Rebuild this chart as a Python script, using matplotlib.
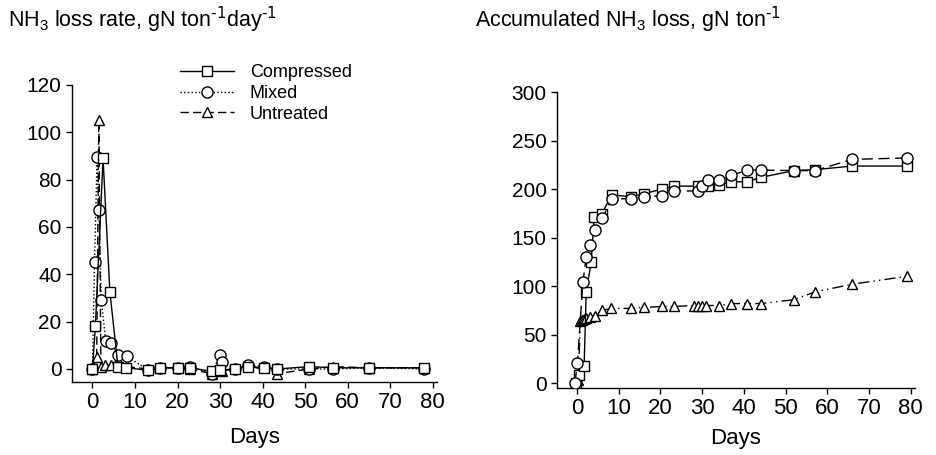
import numpy as np
import matplotlib
matplotlib.use("Agg")
from matplotlib import pyplot as plt

plt.rcParams['font.family'] = ['Liberation Sans', 'DejaVu Sans']
plt.rcParams['mathtext.default'] = 'regular'

# NH3 loss rate (left panel)
rateDaysCompressed = [0, 0.7, 2.5, 4.1, 6, 8, 13, 16, 20, 23, 28, 30, 33.5, 36.6, 40.4, 43.4, 51, 56.6, 65, 78]
rateCompressed = [0, 18, 89, 32.7, 1, 0.5, -0.5, 0.5, 0.5, 0.5, -1, -0.5, 0, 1, 0.5, 0, 1, 0.5, 0.5, 0.5]

rateDaysMixed = [0, 0.5, 1.1, 1.5, 2.1, 3.1, 4.3, 6, 8.1, 13, 16, 20, 23, 28, 30, 30.5, 33.5, 36.6, 40.4, 43.4, 51, 56.6, 65, 78]
rateMixed = [0, 45, 89.7, 67, 29, 12, 11, 6, 5.5, -0.5, 0.5, 0.5, 1, -2, 6, 3, 0, 1.5, 1, 0, 0, 0, 0.5, 0]

rateDaysUntreated = [0, 1, 1.5, 2, 2.9, 4.3, 6, 8, 13, 16, 20, 23, 28, 30.5, 36.6, 43.4, 51, 56.6, 65, 78]
rateUntreated = [0, 5, 105, 1, 1.7, 1.7, 3.7, 1, 0, 0.5, 0.5, 0, -2, -1, 1.5, -2, 0, 1, 0.5, 0.5]

# accumulated NH3 loss (right panel)
accDaysCompressed = [-0.3, 0.5, 1.7, 2.2, 3.4, 4.1, 5.9, 8.3, 13, 16, 20.3, 23.3, 29, 31.3, 34, 37, 40.8, 44, 52, 57, 66, 79]
accCompressed = [0, 8, 17.5, 94, 125, 171.5, 174, 194, 192, 195, 200, 203, 203, 203, 204, 207.5, 207.5, 212, 219, 220, 223.7, 223.7]

accDaysMixed = [-0.5, 0.1, 1.4, 2.2, 3.1, 4.3, 6.1, 8.3, 13, 16, 20.3, 23.3, 29, 30, 31.3, 34, 37, 40.8, 44, 52, 57, 66, 79]
accMixed = [0, 21, 104, 129.5, 142, 157.7, 170, 190, 190, 192, 193, 198, 198, 203, 209, 209, 214, 219.6, 219.6, 219, 219, 230.6, 232]

accDaysUntreated = [0.3, 0.8, 1.2, 1.6, 2.2, 3, 4.3, 6.1, 8.2, 13, 16, 20.3, 23.3, 28, 29, 30, 31, 34, 37, 40.8, 44, 52, 57, 66, 79]
accUntreated = [3, 64, 65, 66, 67, 68, 69, 75, 77, 77, 78, 79, 79, 80, 80, 80, 80, 80, 82, 82, 82, 86, 94, 102, 110]

DAY_TICKS = list(range(0, 90, 10))

fig = plt.figure(figsize=(9.36, 4.55), dpi=100)

styleCompressed = dict(color="black", linestyle="-", marker="s", markersize=7, markerfacecolor="white", markeredgecolor="black", linewidth=1, markeredgewidth=1)
styleMixed = dict(color="black", linestyle=":", marker="o", markersize=8, markerfacecolor="white", markeredgecolor="black", linewidth=1, markeredgewidth=1)
styleUntreated = dict(color="black", linestyle=(0, (6, 3)), marker="^", markersize=7, markerfacecolor="white", markeredgecolor="black", linewidth=1, markeredgewidth=1)


def style_axes(ax):
    for side in ["top", "right"]:
        ax.spines[side].set_visible(False)
    ax.spines["left"].set_linewidth(1)
    ax.spines["bottom"].set_linewidth(1)
    ax.tick_params(direction="out", length=4, width=1)
    ax.tick_params(axis="y", labelsize=15)
    ax.tick_params(axis="x", labelsize=16, pad=3)
    ax.set_xticks(DAY_TICKS)


# left panel
ax1 = fig.add_axes([72 / 936, 1 - 382 / 455, 365 / 936, 297 / 455])
ax1.plot(rateDaysUntreated, rateUntreated, label="Untreated", zorder=3, **styleUntreated)
ax1.plot(rateDaysMixed, rateMixed, label="Mixed", zorder=4, **styleMixed)
ax1.plot(rateDaysCompressed, rateCompressed, label="Compressed", zorder=5, **styleCompressed)
ax1.set_xlim(-4.8, 81)
ax1.set_ylim(-5.5, 120)
ax1.set_yticks(range(0, 140, 20))
style_axes(ax1)
ax1.set_xlabel("Days", fontsize=16, labelpad=10)
handles, labels = ax1.get_legend_handles_labels()
ax1.legend(handles[::-1], labels[::-1], loc="upper left", bbox_to_anchor=(0.27, 1.1), frameon=False,
           fontsize=13, handlelength=3, handletextpad=0.9, labelspacing=0.2, borderpad=0)

# right panel
ax2 = fig.add_axes([557 / 936, 1 - 388 / 455, 358 / 936, 296 / 455])
styleMixedAcc = dict(styleMixed, linestyle=(0, (8, 4)))
styleUntreatedAcc = dict(styleUntreated, linestyle=(0, (8, 3, 1, 3, 1, 3)))
ax2.plot(accDaysUntreated, accUntreated, zorder=3, **styleUntreatedAcc)
ax2.plot(accDaysCompressed, accCompressed, zorder=4, **styleCompressed)
ax2.plot(accDaysMixed, accMixed, zorder=5, **styleMixedAcc)
ax2.set_xlim(-4.8, 81)
ax2.set_ylim(-5, 300)
ax2.set_yticks(range(0, 350, 50))
style_axes(ax2)
ax2.set_xlabel("Days", fontsize=16, labelpad=7)

fig.text(8 / 936, 1 - 20 / 455, r"NH$_3$ loss rate, gN ton$^{\text{-1}}$day$^{\text{-1}}$", fontsize=15.5, va="center", ha="left")
fig.text(475 / 936, 1 - 20 / 455, r"Accumulated NH$_3$ loss, gN ton$^{\text{-1}}$", fontsize=15.5, va="center", ha="left")

plt.savefig("out.png", dpi=100)
plt.close()
